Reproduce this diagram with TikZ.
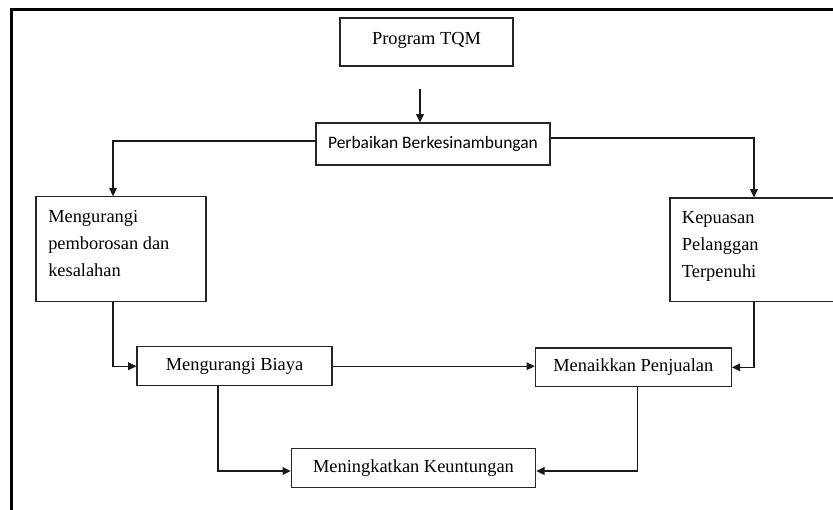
\documentclass[tikz,border=0pt]{standalone}
\usepackage{fontspec}
\setmainfont{Liberation Serif}
\newfontfamily\calfont{Carlito}
\usetikzlibrary{arrows.meta,calc}
\begin{document}
\begin{tikzpicture}[x=0.75pt,y=-0.75pt,
  box/.style={draw=black!85,line width=0.8pt,inner sep=0pt,fill=white},
  txt/.style={font=\fontsize{13.8pt}{20.25pt}\selectfont},
  arr/.style={draw=black!90,line width=0.8pt,-{Triangle[length=6.2pt,width=5.8pt]}},
  ln/.style={draw=black!85,line width=0.75pt}]
\useasboundingbox (0,0) rectangle (833,510);
\clip (0,0) rectangle (833,510);
% outer frame
\draw[line width=2.4pt,line cap=rect] (840,9.2) -- (11.3,9.2) -- (11.3,515);
% boxes
\node[box,txt,minimum width=129.75pt,minimum height=36pt,text depth=6pt] (tqm) at (426.5,42) {Program TQM};
\node[box,minimum width=175.5pt,minimum height=31.5pt,font=\calfont\fontsize{13.1pt}{16pt}\selectfont] (perb) at (433,144) {Perbaikan Berkesinambungan};
\node[box,minimum width=127.5pt,minimum height=78.75pt] (mp) at (121,249.2) {};
\node[txt,anchor=north west,align=left,inner sep=0pt] (mptxt) at (48,209.6) {Mengurangi\\pemborosan dan\\kesalahan};
\node[box,minimum width=127.5pt,minimum height=77.8pt] (kep) at (755,249.85) {};
\node[txt,anchor=north west,align=left,inner sep=0pt] (keptxt) at (681.7,211.4) {Kepuasan\\Pelanggan\\Terpenuhi};
\node[box,txt,minimum width=146.25pt,minimum height=29.25pt] (biaya) at (234.5,366.2) {Mengurangi Biaya};
\node[box,txt,minimum width=147pt,minimum height=29pt] (penj) at (633.3,367.3) {Menaikkan Penjualan};
\node[box,txt,minimum width=183.3pt,minimum height=29pt] (untung) at (413.5,468) {Meningkatkan Keuntungan};
% connectors
\coordinate (t1) at (420,89);
\draw[arr] (t1) -- (t1 |- perb.north);
\draw[arr] ([yshift=2.25pt]perb.west) -| ([xshift=-6pt]mp.north);
\draw[arr] ([yshift=4.5pt]perb.east) -| ([xshift=-0.75pt]kep.north);
\draw[arr] ([xshift=-6pt]mp.south) |- (biaya.west);
\draw[arr] (biaya.east) -- (biaya.east -| penj.west);
\draw[arr] ([xshift=-0.75pt]kep.south) |- (penj.east);
\draw[arr] ([xshift=-12.4pt]biaya.south) |- ([yshift=-2.25pt]untung.west);
\draw[arr] ([xshift=2.8pt]penj.south) |- ([yshift=-2.25pt]untung.east);
\end{tikzpicture}
\end{document}
